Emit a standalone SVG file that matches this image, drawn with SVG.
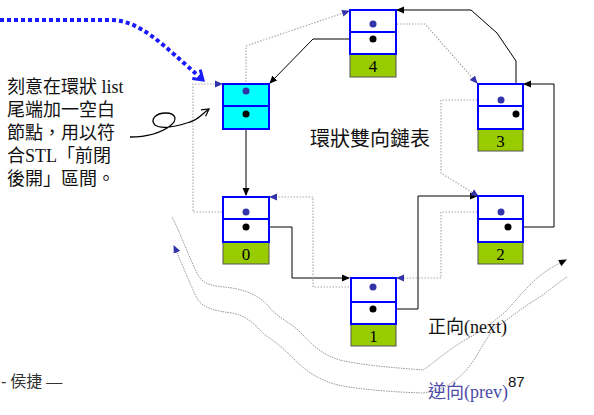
<svg xmlns="http://www.w3.org/2000/svg" width="594" height="415" viewBox="0 0 594 415">
<defs>
<style>
.box{fill:#fff;stroke:#0000ff;stroke-width:2}
.cyan{fill:#00ffff;stroke:#0000ff;stroke-width:2}
.data{fill:#99cc00;stroke:#555;stroke-width:1}
.num{font-family:"Liberation Serif","Noto Sans CJK TC",serif;font-size:17px;text-anchor:middle;fill:#000}
.pd{fill:#3333aa}
.nd{fill:#000}
.next{fill:none;stroke:#000;stroke-width:1}
.prev{fill:none;stroke:#aaa;stroke-width:1.2;stroke-dasharray:1.5 1.5}
.wave{fill:none;stroke:#999;stroke-width:1;stroke-dasharray:1.5 1}
.txt{font-family:"Liberation Serif","Noto Sans CJK TC",serif;font-size:18px;fill:#111}
</style>
<marker id="ab" markerWidth="8" markerHeight="8" refX="7" refY="4" orient="auto" markerUnits="userSpaceOnUse"><path d="M0,0.5 L8,4 L0,7.5 Z" fill="#000"/></marker>
<marker id="ap" markerWidth="8" markerHeight="8" refX="7" refY="4" orient="auto" markerUnits="userSpaceOnUse"><path d="M0,0.5 L8,4 L0,7.5 Z" fill="#3333aa"/></marker>
<marker id="ac" markerWidth="14" markerHeight="14" refX="10" refY="7" orient="auto" markerUnits="userSpaceOnUse"><path d="M1,1 L10,7 L1,13" fill="none" stroke="#1a1aff" stroke-width="3"/></marker>
<marker id="ao" markerWidth="10" markerHeight="10" refX="8" refY="5" orient="auto" markerUnits="userSpaceOnUse"><path d="M1,1 L8,5 L1,9" fill="none" stroke="#000" stroke-width="1.2"/></marker>
</defs>
<rect width="594" height="415" fill="#fff"/>

<g id="connectors">
<path class="next" d="M246,114 V195" marker-end="url(#ab)"/>
<path class="next" d="M246,227 H292 V278 H349" marker-end="url(#ab)"/>
<path class="next" d="M373,309 H418 V196 H477" marker-end="url(#ab)"/>
<path class="next" d="M508,227 H554 V84 H524" marker-end="url(#ab)"/>
<path class="next" d="M516,114 V61 L497,33 L471,10 H397" marker-end="url(#ab)"/>
<path class="next" d="M373,39 H313 L270,83" marker-end="url(#ab)"/>
<path class="prev" d="M373,24 H425 L477,83" marker-end="url(#ap)"/>
<path class="prev" d="M501,100 H441 V173 L478,196" marker-end="url(#ap)"/>
<path class="prev" d="M501,212 H441 V278 H397" marker-end="url(#ap)"/>
<path class="prev" d="M373,287 H313 V197 H270" marker-end="url(#ap)"/>
<path class="prev" d="M246,212 H193 V84 H222" marker-end="url(#ap)"/>
<path class="prev" d="M246,91 V46 L349,11" marker-end="url(#ap)"/>
<path class="wave" d="M172,217 C180,232 188,255 198,275 C205,287 218,286 232,288 C250,291 262,298 270,308 C278,318 290,322 300,332 C312,345 322,355 340,360 C365,366 400,368 423,370 C435,362 448,350 465,340 C482,331 492,323 505,312 C515,302 522,292 535,280 C546,270 556,265 566,260" marker-end="url(#ab)"/>
<path class="wave" d="M567,277 C556,284 548,292 535,300 C522,308 510,318 495,328 C484,340 478,356 468,368 C458,380 445,390 423,393 C395,392 362,390 338,385 C318,380 305,370 295,360 C285,350 276,342 265,335 C255,325 248,316 232,313 C215,311 204,308 198,300 C190,285 184,268 174,246" marker-end="url(#ap)"/>
<path d="M0,20 H110 C140,20 162,44 203,80" fill="none" stroke="#1a1aff" stroke-width="4" stroke-dasharray="4 3" marker-end="url(#ac)"/>
<path d="M130,137 C145,137 158,135 170,126 C178,120 176,113 166,113 C155,113 150,120 155,125 C162,130 178,126 190,122 C198,120 202,114 209,109" fill="none" stroke="#000" stroke-width="1.3" marker-end="url(#ao)"/>
</g>

<g id="node-end">
<rect class="cyan" x="223" y="84" width="46" height="22"/>
<rect class="cyan" x="223" y="106" width="46" height="23"/>
<circle class="pd" cx="246" cy="91" r="3.5"/>
<circle class="nd" cx="246" cy="114" r="3.5"/>
</g>

<g id="node-4">
<rect class="data" x="350" y="54" width="46" height="23"/>
<text class="num" x="373" y="72">4</text>
<rect class="box" x="350" y="10" width="46" height="22"/>
<rect class="box" x="350" y="32" width="46" height="22"/>
<circle class="pd" cx="373" cy="24" r="3.5"/>
<circle class="nd" cx="373" cy="39" r="3.5"/>
</g>

<g id="node-3">
<rect class="data" x="478" y="129" width="45" height="22"/>
<text class="num" x="500.5" y="147">3</text>
<rect class="box" x="478" y="84" width="45" height="22"/>
<rect class="box" x="478" y="106" width="45" height="23"/>
<circle class="pd" cx="501" cy="100" r="3.5"/>
<circle class="nd" cx="516" cy="114" r="3.5"/>
</g>

<g id="node-0">
<rect class="data" x="223" y="242" width="46" height="22"/>
<text class="num" x="246" y="260">0</text>
<rect class="box" x="223" y="197" width="46" height="22"/>
<rect class="box" x="223" y="219" width="46" height="23"/>
<circle class="pd" cx="246" cy="212" r="3.5"/>
<circle class="nd" cx="246" cy="227" r="3.5"/>
</g>

<g id="node-2">
<rect class="data" x="478" y="242" width="45" height="22"/>
<text class="num" x="500.5" y="260">2</text>
<rect class="box" x="478" y="196" width="45" height="23"/>
<rect class="box" x="478" y="219" width="45" height="23"/>
<circle class="pd" cx="501" cy="212" r="3.5"/>
<circle class="nd" cx="508" cy="227" r="3.5"/>
</g>

<g id="node-1">
<rect class="data" x="351" y="324" width="45" height="22"/>
<text class="num" x="373.5" y="342">1</text>
<rect class="box" x="351" y="278" width="45" height="24"/>
<rect class="box" x="351" y="302" width="45" height="22"/>
<circle class="pd" cx="373" cy="287" r="3.5"/>
<circle class="nd" cx="373" cy="309" r="3.5"/>
</g>

<g id="labels">
<text class="txt" x="7" y="93">刻意在環狀 list</text>
<text class="txt" x="7" y="116">尾端加一空白</text>
<text class="txt" x="7" y="139">節點，用以符</text>
<text class="txt" x="7" y="162">合STL「前閉</text>
<text class="txt" x="7" y="185">後開」區間。</text>
<text class="txt" x="310" y="146" style="font-size:20px">環狀雙向鏈表</text>
<text class="txt" x="428" y="333">正向(next)</text>
<text class="txt" x="428" y="398" style="fill:#4a4aa8">逆向(prev)</text>
<text x="508" y="387" style="font-family:'Liberation Sans',sans-serif;font-size:15px;fill:#111">87</text>
<text x="1" y="387" style="font-family:'Liberation Serif','Noto Sans CJK TC',serif;font-size:16px;fill:#333">- 侯捷 —</text>
</g>
</svg>
